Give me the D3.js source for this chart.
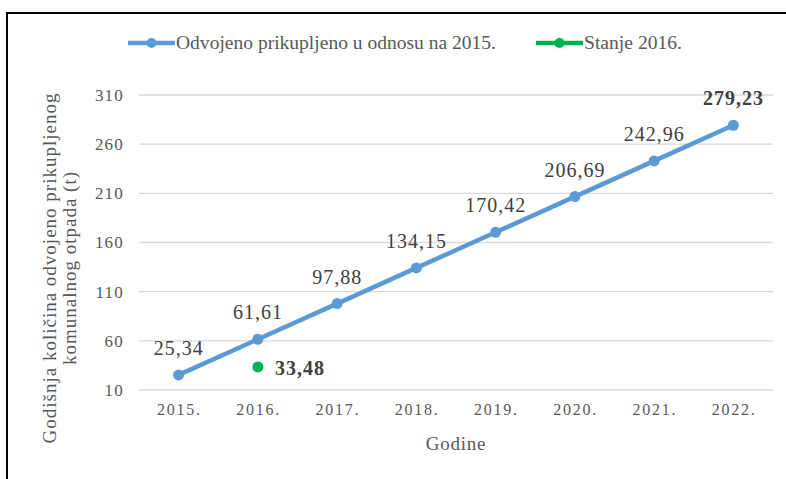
<!DOCTYPE html>
<html>
<head>
<meta charset="utf-8">
<script src="https://cdn.jsdelivr.net/npm/d3@7"></script>
<style>
  body { margin: 0; background: #fff; }
  svg { display: block; }
  svg text { font-family: "Liberation Serif", "Times New Roman", serif !important; }
</style>
</head>
<body>
<div id="chart"></div>
<script>
// podaci
const years = ["2015.", "2016.", "2017.", "2018.", "2019.", "2020.", "2021.", "2022."];
const values = [25.34, 61.61, 97.88, 134.15, 170.42, 206.69, 242.96, 279.23];
const actualYear = "2016.";
const actualValue = 33.48;
const yTicks = [10, 60, 110, 160, 210, 260, 310];
const seriesNames = ["Odvojeno prikupljeno u odnosu na 2015.", "Stanje 2016."];

const width = 786;
const height = 479;
const margin = { top: 95, right: 13, bottom: 89, left: 139 };
const blue = "#5b9bd5";
const green = "#00b050";

const svg = d3.select("#chart")
  .append("svg")
  .attr("width", width)
  .attr("height", height);

// okvir
svg.append("path")
  .attr("d", `M7,479 V13 H786`)
  .attr("fill", "none")
  .attr("stroke", "#000")
  .attr("stroke-width", 2);

const x = d3.scaleBand()
  .domain(years)
  .range([margin.left, width - margin.right]);

const y = d3.scaleLinear()
  .domain([10, 310])
  .range([height - margin.bottom, margin.top]);

// mreža
svg.append("g")
  .selectAll("line")
  .data(yTicks)
  .join("line")
  .attr("x1", margin.left)
  .attr("x2", width - margin.right)
  .attr("y1", d => y(d))
  .attr("y2", d => y(d))
  .attr("stroke", "#d9d9d9")
  .attr("stroke-width", 1.3);

// os y
svg.append("g")
  .attr("transform", `translate(${margin.left},0)`)
  .call(d3.axisLeft(y).tickValues(yTicks).tickSize(0).tickPadding(15))
  .call(g => g.select(".domain").remove())
  .call(g => g.selectAll("text")
    .attr("fill", "#595959")
    .style("font-size", "17px")
    .style("letter-spacing", "1.2px"));

// os x
svg.append("g")
  .attr("transform", `translate(0,${height - margin.bottom})`)
  .call(d3.axisBottom(x).tickSize(0).tickPadding(14))
  .call(g => g.select(".domain").remove())
  .call(g => g.selectAll("text")
    .attr("fill", "#595959")
    .attr("dx", "0.7px")
    .style("font-size", "16px")
    .style("letter-spacing", "1.7px"));

// naslovi osi
svg.append("text")
  .attr("x", x("2018.") + x.bandwidth())
  .attr("y", 450)
  .attr("text-anchor", "middle")
  .attr("fill", "#595959")
  .style("font-size", "19px")
  .style("letter-spacing", "0.8px")
  .text("Godine");

const yTitle = svg.append("text")
  .attr("transform", `translate(56,268) rotate(-90)`)
  .attr("text-anchor", "middle")
  .attr("fill", "#595959")
  .style("font-size", "19px")
  .style("letter-spacing", "1px");
yTitle.append("tspan").attr("x", 0).attr("dy", 0).text("Godišnja količina odvojeno prikupljenog");
yTitle.append("tspan").attr("x", 0).attr("dy", 20).text("komunalnog otpada (t)");

// linija
const cx = yr => x(yr) + x.bandwidth() / 2;
const line = d3.line()
  .x((d, i) => cx(years[i]))
  .y(d => y(d));

svg.append("path")
  .datum(values)
  .attr("fill", "none")
  .attr("stroke", blue)
  .attr("stroke-width", 4.5)
  .attr("d", line);

svg.append("g")
  .selectAll("circle")
  .data(values)
  .join("circle")
  .attr("cx", (d, i) => cx(years[i]))
  .attr("cy", d => y(d))
  .attr("r", 5.5)
  .attr("fill", blue);

// oznake vrijednosti
const fmt = v => v.toFixed(2).replace(".", ",");
svg.append("g")
  .selectAll("text")
  .data(values)
  .join("text")
  .attr("x", (d, i) => cx(years[i]))
  .attr("y", d => y(d) - 20)
  .attr("text-anchor", "middle")
  .attr("fill", "#404040")
  .style("font-size", "20px")
  .style("letter-spacing", "1px")
  .style("font-weight", (d, i) => i === values.length - 1 ? "bold" : "normal")
  .text(fmt);

// stanje 2016
svg.append("circle")
  .attr("cx", cx(actualYear))
  .attr("cy", y(actualValue))
  .attr("r", 5.5)
  .attr("fill", green);

svg.append("text")
  .attr("x", cx(actualYear) + 17)
  .attr("y", y(actualValue) + 8)
  .attr("fill", "#404040")
  .style("font-size", "20px")
  .style("letter-spacing", "1px")
  .style("font-weight", "bold")
  .text(fmt(actualValue));

// legenda
const legendX = [128, 536];
const legendColors = [blue, green];
const legendLen = [320, 98];
const legend = svg.append("g")
  .selectAll("g")
  .data(seriesNames)
  .join("g")
  .attr("transform", (d, i) => `translate(${legendX[i]},43)`);

legend.append("line")
  .attr("x1", 0).attr("x2", 47)
  .attr("stroke", (d, i) => legendColors[i])
  .attr("stroke-width", 4.5);
legend.append("circle")
  .attr("cx", 23.5)
  .attr("r", 5)
  .attr("fill", (d, i) => legendColors[i]);
legend.append("text")
  .attr("x", 48)
  .attr("y", 6)
  .attr("fill", "#595959")
  .attr("textLength", (d, i) => legendLen[i])
  .attr("lengthAdjust", "spacingAndGlyphs")
  .style("font-size", "18px")
  .text(d => d);
</script>
</body>
</html>
